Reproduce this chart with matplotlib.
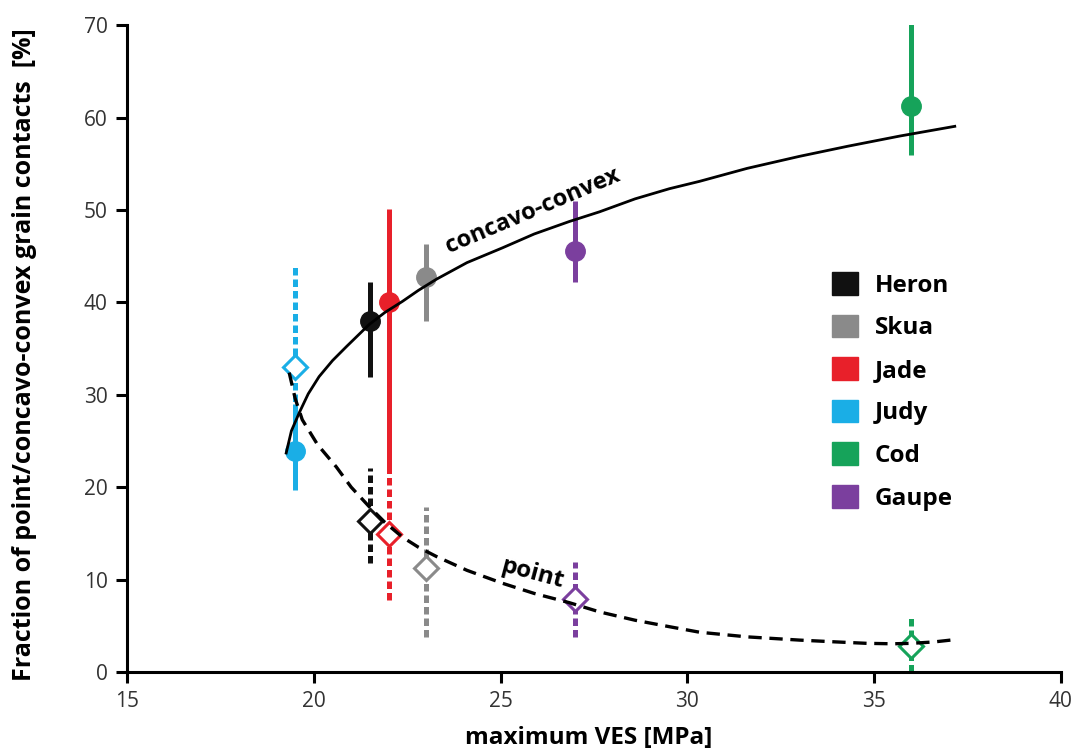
import numpy as np
import matplotlib.pyplot as plt
from matplotlib.patches import Patch

plt.rcParams['font.family'] = ['Open Sans', 'DejaVu Sans']

# Dados
fields = ["Heron", "Skua", "Jade", "Judy", "Cod", "Gaupe"]
colors = ["#111111", "#8a8a8a", "#e8202a", "#1aaee6", "#16a35a", "#7b3f9e"]
ves = [21.5, 23.0, 22.0, 19.5, 36.0, 27.0]

# concavo-convex (círculos cheios)
cc_mean = [38.0, 42.7, 40.0, 23.9, 61.2, 45.6]
cc_low = [31.9, 38.0, 22.0, 19.7, 55.9, 42.2]
cc_high = [42.2, 46.3, 50.1, 29.0, 70.2, 51.0]

# point (losangos abertos)
pt_mean = [16.3, 11.3, 14.9, 33.0, 2.8, 7.9]
pt_low = [11.8, 3.8, 7.8, 28.0, 0.0, 3.8]
pt_high = [22.1, 17.9, 22.1, 44.1, 5.8, 11.9]

# curvas de ajuste (pontos lidos)
cc_curve_x = [19.26, 19.4, 19.61, 19.85, 20.14, 20.5, 20.87, 21.2, 21.48, 21.9, 22.37,
              22.8, 23.28, 24.1, 25.05, 25.9, 26.84, 27.65, 28.6, 29.52, 30.33, 31.6,
              33.0, 34.3, 35.69, 37.16]
cc_curve_y = [23.7, 26.1, 28.06, 30.1, 31.96, 33.7, 35.2, 36.5, 37.6, 38.9, 40.1,
              41.3, 42.5, 44.3, 45.9, 47.4, 48.75, 49.8, 51.2, 52.3, 53.1, 54.5,
              55.8, 56.9, 58.0, 59.05]
pt_curve_x = [19.34, 19.5, 19.69, 20.1, 20.6, 21.0, 21.48, 21.9, 22.37, 22.8, 23.28,
              24.1, 25.05, 25.9, 26.84, 27.65, 28.6, 29.52, 30.33, 31.6, 33.0, 34.0,
              34.8, 35.5, 36.0, 36.6, 37.16]
pt_curve_y = [32.4, 29.6, 27.3, 24.6, 22.2, 20.0, 17.9, 16.2, 14.6, 13.5, 12.5,
              11.0, 9.6, 8.5, 7.5, 6.5, 5.6, 4.9, 4.3, 3.8, 3.45, 3.25,
              3.1, 3.05, 3.1, 3.25, 3.5]

fig = plt.figure(figsize=(10.77, 7.53), dpi=100)
ax = fig.add_axes([0.118, 0.1076, 0.867, 0.859])

# barras de erro
ax.vlines(ves, cc_low, cc_high, colors=colors, linewidth=3.6, zorder=2)
ax.vlines(ves, pt_low, pt_high, colors=colors, linewidth=3.6, linestyles=(0, (1.5, 0.8)), zorder=2)

# marcadores
for x, y, c in zip(ves, cc_mean, colors):
    ax.plot(x, y, 'o', color=c, markersize=14, zorder=3)
for x, y, c in zip(ves, pt_mean, colors):
    ax.plot(x, y, 'D', markerfacecolor='white', markeredgecolor=c,
            markeredgewidth=2.2, markersize=12, zorder=3)

# curvas
ax.plot(cc_curve_x, cc_curve_y, color='black', linewidth=2.0, zorder=4)
ax.plot(pt_curve_x, pt_curve_y, color='black', linewidth=2.4, linestyle=(0, (4, 2.3)), zorder=4)

ax.text(25.85, 49.9, "concavo-convex", rotation=23, fontsize=17, fontweight='bold',
        ha='center', va='center')
ax.text(25.85, 10.6, "point", rotation=-15, fontsize=17.5, fontweight='bold',
        ha='center', va='center')

# legenda
handles = [Patch(facecolor=c, edgecolor=c) for c in colors]
ax.legend(handles, fields, loc='upper left', bbox_to_anchor=(0.742, 0.637),
          frameon=False, prop={'weight': 'bold', 'size': 17.5},
          handlelength=1.05, handleheight=1.05, handletextpad=0.7, labelspacing=0.7,
          borderpad=0)

ax.set_xlim(15, 40)
ax.set_ylim(0, 70)
ax.set_xticks([15, 20, 25, 30, 35, 40])
ax.set_yticks([0, 10, 20, 30, 40, 50, 60, 70])
for s in ['top', 'right']:
    ax.spines[s].set_visible(False)
for s in ['left', 'bottom']:
    ax.spines[s].set_linewidth(2.2)
ax.tick_params(direction='out', length=8, width=2.2, labelsize=15, labelcolor='#333333', pad=6)

ax.set_xlabel("maximum VES [MPa]", fontsize=17.5, fontweight='bold', va='center')
ax.set_ylabel("Fraction of point/concavo-convex grain contacts  [%]", fontsize=18,
              fontweight='bold', va='center')
ax.xaxis.set_label_coords(0.494, -0.102)
ax.yaxis.set_label_coords(-0.11, 0.49)

plt.savefig("out.png", dpi=100)
